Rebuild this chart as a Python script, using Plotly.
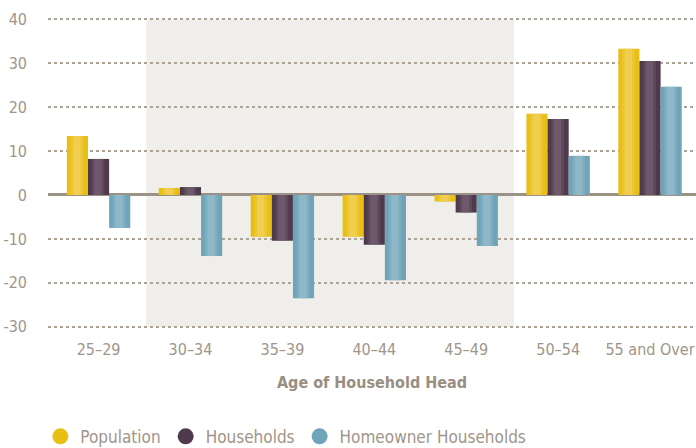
import plotly.graph_objects as go

categories = ["25–29", "30–34", "35–39", "40–44", "45–49", "50–54", "55 and Over"]
population = [13.4, 1.6, -9.5, -9.5, -1.5, 18.5, 33.3]
households = [8.2, 1.8, -10.4, -11.3, -4.0, 17.3, 30.5]
homeowner = [-7.5, -13.9, -23.5, -19.4, -11.6, 8.9, 24.6]
series_names = ["Population", "Households", "Homeowner Households"]
y_ticks = [-30, -20, -10, 0, 10, 20, 30, 40]
y_ticktext = ["-30", "-20", "-10", "0", "10", "20", "30", "40"]

base_colors = ["#E9BF14", "#4E3A4C", "#6FA4B9"]
light_colors = ["#F3D56A", "#7A6678", "#9CC0CE"]

FONT = "DejaVu Sans Condensed, sans-serif"
TXT = "#A0958A"

xs = list(range(len(categories)))
fig = go.Figure()
bw = 0.23
offsets = [-1.5 * bw, -0.5 * bw, 0.5 * bw]
for vals, name, c, lc, off in zip([population, households, homeowner], series_names,
                                  base_colors, light_colors, offsets):
    fig.add_trace(go.Bar(x=xs, y=vals, name=name, marker=dict(color=c, line=dict(width=0)),
                         width=bw, offset=off, showlegend=False, hoverinfo="skip"))
    fig.add_trace(go.Bar(x=xs, y=vals, marker=dict(color=lc, line=dict(width=0)), opacity=0.55,
                         width=bw * 0.35, offset=off + bw * 0.3, showlegend=False, hoverinfo="skip"))
    fig.add_trace(go.Bar(x=xs, y=vals, marker=dict(color=lc, line=dict(width=0)), opacity=0.35,
                         width=bw * 0.6, offset=off + bw * 0.18, showlegend=False, hoverinfo="skip"))

for name, c in zip(series_names, base_colors):
    fig.add_trace(go.Scatter(x=[None], y=[None], mode="markers", name=name,
                             marker=dict(color=c, size=20, symbol="circle")))

fig.add_shape(type="rect", xref="x", yref="y", x0=0.52, x1=4.52, y0=-30, y1=40,
              fillcolor="#F0EEEA", line=dict(width=0), layer="below")

fig.update_layout(
    width=696, height=448,
    margin=dict(l=48, r=0, t=17, b=119),
    barmode="overlay",
    plot_bgcolor="white", paper_bgcolor="white",
    font=dict(family=FONT, color=TXT, size=16),
    xaxis=dict(tickmode="array", tickvals=xs, ticktext=categories, range=[-0.55, 6.5],
               showgrid=False, zeroline=False, ticks="", showline=False, automargin=False,
               tickfont=dict(size=16, color=TXT), ticklabelstandoff=9,
               title=dict(text="<b>Age of Household Head</b>", font=dict(size=16, color="#9A8E82"),
                          standoff=18)),
    yaxis=dict(range=[-30.5, 40.5], tickvals=y_ticks, ticktext=y_ticktext, showgrid=True,
               gridcolor="#ADA296", griddash="dot", gridwidth=1.5, zeroline=True,
               zerolinecolor="#9C9185", zerolinewidth=3, ticks="",
               tickfont=dict(size=16, color=TXT), ticklabelstandoff=20, automargin=False),
    legend=dict(orientation="h", xref="container", x=0.058, xanchor="left",
                yref="container", y=0.025, yanchor="middle",
                font=dict(size=17, color=TXT), itemsizing="trace"),
    showlegend=True,
)

fig.write_html("out.html", config={"displayModeBar": False},
               post_script="document.body.style.margin='0px';")
